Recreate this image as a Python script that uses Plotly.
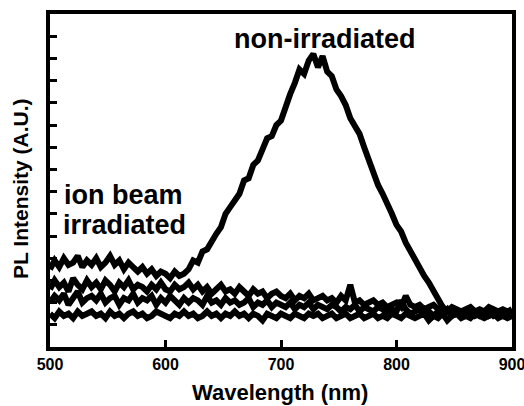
import plotly.graph_objects as go

# Wavelength grid (nm), 4 nm steps from 500 to 900
wavelength = list(range(500, 901, 4))

# PL intensity (arbitrary units)
non_irradiated = [
    3.5, 3.9, 3.6, 4.0, 3.7, 3.8, 4.1, 3.6, 3.9, 3.7,
    4.0, 3.6, 3.8, 4.1, 3.7, 3.9, 3.5, 3.8, 3.6, 3.4,
    3.6, 3.3, 3.5, 3.2, 3.4, 3.3, 3.1, 3.4, 3.2, 3.3,
    3.5, 3.9, 3.8, 4.3, 4.4, 4.8, 5.1, 5.4, 6.0, 6.3,
    6.6, 6.9, 7.5, 7.6, 8.2, 8.4, 8.9, 9.4, 9.5, 10.0,
    10.2, 10.9, 11.4, 11.9, 12.5, 12.3, 12.9, 13.2, 12.6, 13.1,
    12.4, 12.2, 11.6, 11.3, 10.9, 10.3, 9.9, 9.6, 9.0, 8.4,
    8.0, 7.3, 6.9, 6.5, 6.0, 5.5, 5.2, 4.7, 4.3, 3.9,
    3.6, 3.2, 2.9, 2.5, 2.2, 1.8, 1.6, 1.5, 1.6, 1.4,
    1.5, 1.6, 1.4, 1.5, 1.6, 1.4, 1.5, 1.4, 1.6, 1.5, 1.4,
]

irradiated_1 = [
    2.6, 3.0, 2.7, 2.9, 2.5, 3.1, 2.8, 2.6, 3.0, 2.7,
    2.9, 2.6, 3.0, 2.8, 2.5, 2.9, 2.7, 3.0, 2.6, 2.8,
    2.7, 2.5, 2.8, 2.6, 2.9, 2.6, 2.5, 2.8, 2.6, 2.7,
    2.9, 2.6, 2.8, 2.5, 2.7, 2.4, 2.6, 2.8, 2.5, 2.6,
    2.4, 2.7, 2.5, 2.3, 2.6, 2.4, 2.5, 2.2, 2.4, 2.5,
    2.3, 2.2, 2.4, 2.1, 2.3, 2.2, 2.4, 2.1, 2.2, 2.3,
    2.1, 2.2, 2.0, 2.3, 2.1, 2.8, 2.0, 2.1, 1.9, 2.0,
    2.1, 1.9, 2.0, 1.8, 1.9, 2.0, 1.8, 2.3, 1.9, 1.8,
    1.9, 1.7, 1.8, 1.9, 1.7, 1.8, 1.6, 1.8, 1.7, 1.6,
    1.7, 1.8, 1.6, 1.7, 1.6, 1.8, 1.7, 1.6, 1.7, 1.6, 1.7,
]

irradiated_2 = [
    2.0, 2.3, 2.1, 2.4, 1.9, 2.2, 2.5, 2.0, 2.2, 2.3,
    2.1, 2.4, 2.0, 2.2, 2.3, 1.9, 2.2, 2.1, 2.4, 2.0,
    2.2, 2.1, 2.3, 1.9, 2.2, 2.0, 2.3, 2.1, 1.9, 2.2,
    2.0, 2.2, 2.1, 1.9, 2.3, 2.0, 2.1, 1.9, 2.2, 2.0,
    2.1, 1.9, 2.0, 2.2, 1.8, 2.0, 1.9, 2.1, 1.8, 2.0,
    1.9, 1.8, 2.0, 1.7, 1.9, 1.8, 2.0, 1.7, 1.9, 1.8,
    1.7, 1.9, 1.8, 1.6, 1.8, 1.7, 1.9, 1.6, 1.8, 1.7,
    1.6, 1.8, 1.7, 1.5, 1.7, 1.6, 2.1, 1.7, 1.5, 1.6,
    1.7, 1.5, 1.6, 1.4, 1.6, 1.5, 1.7, 1.4, 1.5, 1.6,
    1.4, 1.5, 1.6, 1.4, 1.5, 1.6, 1.4, 1.5, 1.4, 1.6, 1.5,
]

irradiated_3 = [
    1.5, 1.3, 1.6, 1.4, 1.5, 1.3, 1.6, 1.4, 1.5, 1.6,
    1.4, 1.5, 1.3, 1.6, 1.4, 1.5, 1.3, 1.5, 1.6, 1.4,
    1.5, 1.3, 1.4, 1.6, 1.5, 1.4, 1.3, 1.5, 1.4, 1.6,
    1.4, 1.5, 1.3, 1.4, 1.6, 1.4, 1.5, 1.3, 1.5, 1.4,
    1.6, 1.4, 1.5, 1.3, 1.5, 1.4, 1.2, 1.5, 1.4, 1.3,
    1.5, 1.4, 1.3, 1.5, 1.4, 1.3, 1.5, 1.4, 1.5, 1.3,
    1.4, 1.5, 1.3, 1.4, 1.5, 1.3, 1.4, 1.5, 1.3, 1.4,
    1.5, 1.3, 1.4, 1.3, 1.5, 1.4, 1.3, 1.5, 1.4, 1.3,
    1.4, 1.5, 1.2, 1.4, 1.3, 1.5, 1.2, 1.4, 1.5, 1.3,
    1.4, 1.3, 1.5, 1.4, 1.3, 1.4, 1.5, 1.3, 1.4, 1.3, 1.4,
]

x_tick_values = [500, 600, 700, 800, 900]
x_tick_labels = ["500", "600", "700", "800", "900"]
y_tick_values = list(range(1, 15))

FONT = "Liberation Sans, Arial, Helvetica, sans-serif"

fig = go.Figure()
for series in [irradiated_3, irradiated_2, irradiated_1, non_irradiated]:
    fig.add_trace(go.Scatter(
        x=wavelength, y=series, mode="lines",
        line=dict(color="black", width=6),
        showlegend=False, hoverinfo="skip",
    ))

fig.update_layout(
    width=524, height=406,
    margin=dict(l=50, r=12, t=14, b=59, autoexpand=False),
    paper_bgcolor="white", plot_bgcolor="white",
    font=dict(family=FONT, color="black"),
    showlegend=False,
)

fig.update_xaxes(
    range=[500, 900], automargin=False, ticklabeloverflow="allow",
    tickmode="array", tickvals=x_tick_values, ticktext=x_tick_labels,
    ticks="inside", ticklen=7, tickwidth=3, tickcolor="black",
    tickfont=dict(family=FONT, size=16, color="black", weight="bold"),
    showline=True, linewidth=4, linecolor="black", mirror=True,
    showgrid=False, zeroline=False,
)
fig.update_yaxes(
    range=[0, 15], automargin=False,
    tickmode="array", tickvals=y_tick_values, showticklabels=False,
    ticks="inside", ticklen=7, tickwidth=3, tickcolor="black",
    showline=True, linewidth=4, linecolor="black", mirror=True,
    showgrid=False, zeroline=False,
)

bold = dict(family=FONT, color="black", weight="bold")
annotations = [
    dict(text="non-irradiated", x=0.596, y=0.926, xanchor="center", yanchor="middle",
         font=dict(size=27, **bold)),
    dict(text="ion beam", x=0.026, y=0.455, xanchor="left", yanchor="middle",
         font=dict(size=27, **bold)),
    dict(text="irradiated", x=0.024, y=0.365, xanchor="left", yanchor="middle",
         font=dict(size=27, **bold)),
    dict(text="Wavelength (nm)", x=0.498, y=-0.137, xanchor="center", yanchor="middle",
         font=dict(size=22, **bold)),
    dict(text="PL Intensity (A.U.)", x=-0.064, y=0.476, xanchor="center", yanchor="middle",
         textangle=-90, font=dict(size=21, **bold)),
]
for a in annotations:
    fig.add_annotation(xref="paper", yref="paper", showarrow=False, **a)

fig.write_html(
    "out.html",
    config={"displayModeBar": False},
    post_script="document.body.style.margin='0';document.body.style.padding='0';",
)
